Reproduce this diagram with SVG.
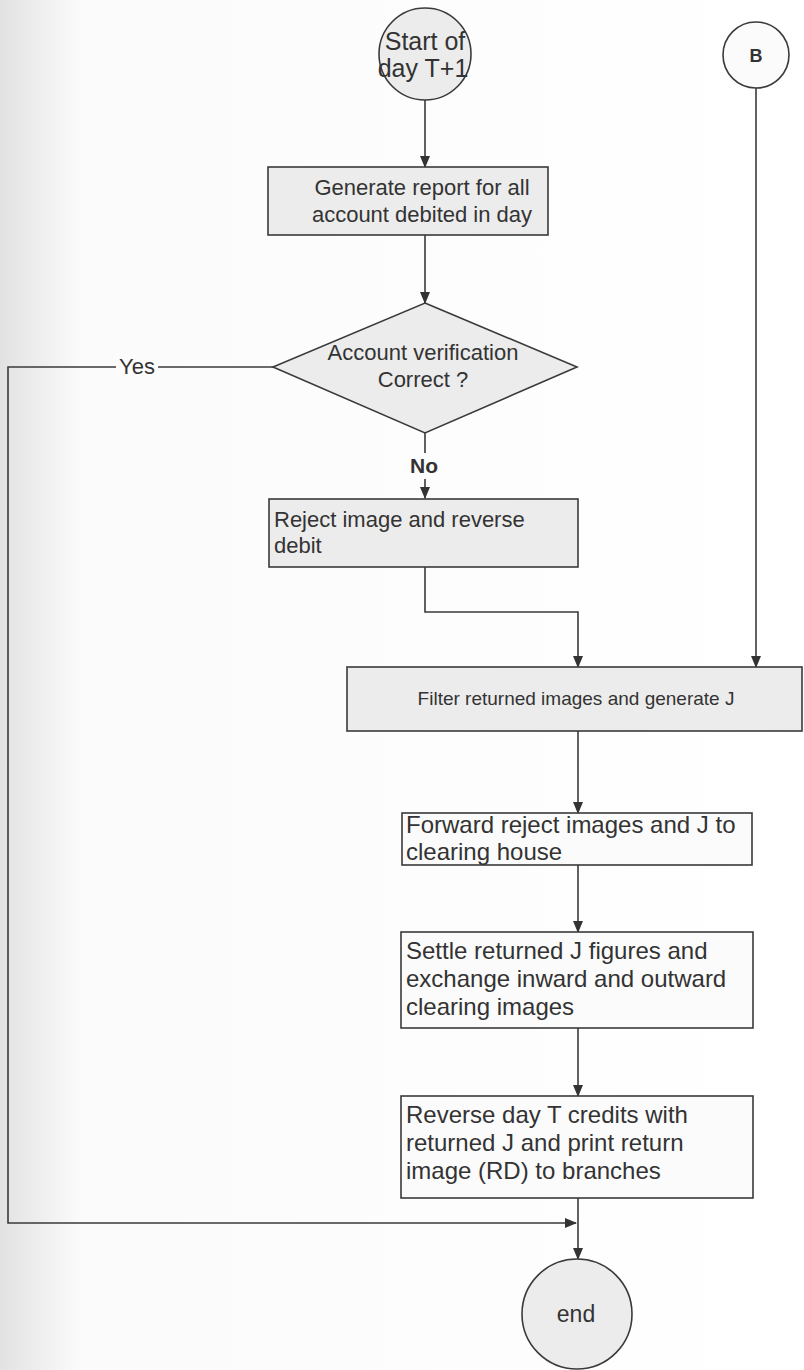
<svg xmlns="http://www.w3.org/2000/svg" width="804" height="1370" viewBox="0 0 804 1370">
<defs>
<marker id="arr" markerWidth="12" markerHeight="12" refX="11" refY="6" orient="auto" markerUnits="userSpaceOnUse">
<path d="M0,1 L12,6 L0,11 z" fill="#333"/>
</marker>
<linearGradient id="bg" x1="0" y1="0" x2="1" y2="0">
<stop offset="0" stop-color="#e2e2e2"/>
<stop offset="0.1" stop-color="#fbfbfb"/>
<stop offset="1" stop-color="#ffffff"/>
</linearGradient>
</defs>
<style>
.t{font-family:"Liberation Sans",Arial,sans-serif;fill:#333}
.g{fill:#ececec;stroke:#3a3a3a;stroke-width:1.6}
.w{fill:#fbfbfb;stroke:#3a3a3a;stroke-width:1.6}
.c{fill:none;stroke:#3a3a3a;stroke-width:1.6}
</style>
<rect x="0" y="0" width="804" height="1370" fill="url(#bg)"/>
<g id="connectors">
<path class="c" d="M425,100 V167" marker-end="url(#arr)"/>
<path class="c" d="M425,235 V303" marker-end="url(#arr)"/>
<path class="c" d="M425,433 V453 M425,479 V498" marker-end="url(#arr)"/>
<path class="c" d="M273,367 H8 V1223 H576" marker-end="url(#arr)"/>
<path class="c" d="M425,567 V612 H578 V667" marker-end="url(#arr)"/>
<path class="c" d="M756,88 V667" marker-end="url(#arr)"/>
<path class="c" d="M578,731 V813" marker-end="url(#arr)"/>
<path class="c" d="M578,865 V932" marker-end="url(#arr)"/>
<path class="c" d="M578,1028 V1096" marker-end="url(#arr)"/>
<path class="c" d="M578,1198 V1259" marker-end="url(#arr)"/>
<rect x="116" y="355" width="42" height="24" fill="#fcfcfc"/>
<text class="t" x="137" y="374" font-size="22" text-anchor="middle">Yes</text>
<text class="t" x="424" y="473" font-size="21" font-weight="bold" text-anchor="middle">No</text>
</g>
<g id="start">
<circle class="g" cx="425" cy="54" r="46"/>
<text class="t" x="425" y="50" font-size="25" text-anchor="middle">Start of</text>
<text class="t" x="423" y="77" font-size="25" text-anchor="middle">day T+1</text>
</g>
<g id="B">
<circle class="w" cx="756" cy="55" r="33"/>
<text class="t" x="756" y="62" font-size="18" font-weight="bold" text-anchor="middle">B</text>
</g>
<g id="generate">
<rect class="g" x="268" y="167" width="280" height="68"/>
<text class="t" x="422" y="195" font-size="22" text-anchor="middle">Generate report for all</text>
<text class="t" x="422" y="222" font-size="22" text-anchor="middle">account debited in day</text>
</g>
<g id="decision">
<polygon class="g" points="425,303 577,367 425,433 273,367"/>
<text class="t" x="423" y="360" font-size="22" text-anchor="middle">Account verification</text>
<text class="t" x="423" y="387" font-size="22" text-anchor="middle">Correct ?</text>
</g>
<g id="reject">
<rect class="g" x="269" y="499" width="309" height="68"/>
<text class="t" x="274" y="527" font-size="22">Reject image and reverse</text>
<text class="t" x="274" y="553" font-size="22">debit</text>
</g>
<g id="filter">
<rect class="g" x="347" y="667" width="455" height="64"/>
<text class="t" x="576" y="705" font-size="19" text-anchor="middle">Filter returned images and generate J</text>
</g>
<g id="forward">
<rect class="w" x="402" y="813" width="350" height="52"/>
<text class="t" x="406" y="833" font-size="24">Forward reject images and J to</text>
<text class="t" x="406" y="860" font-size="24">clearing house</text>
</g>
<g id="settle">
<rect class="w" x="401" y="932" width="352" height="96"/>
<text class="t" x="406" y="959" font-size="24">Settle returned J figures and</text>
<text class="t" x="406" y="987" font-size="24">exchange inward and outward</text>
<text class="t" x="406" y="1015" font-size="24">clearing images</text>
</g>
<g id="reverse">
<rect class="w" x="401" y="1096" width="352" height="102"/>
<text class="t" x="406" y="1123" font-size="24">Reverse day T credits with</text>
<text class="t" x="406" y="1151" font-size="24">returned J and print return</text>
<text class="t" x="406" y="1179" font-size="24">image (RD) to branches</text>
</g>
<g id="end">
<circle class="g" cx="577" cy="1314" r="55"/>
<text class="t" x="576" y="1322" font-size="23" text-anchor="middle">end</text>
</g>
</svg>
